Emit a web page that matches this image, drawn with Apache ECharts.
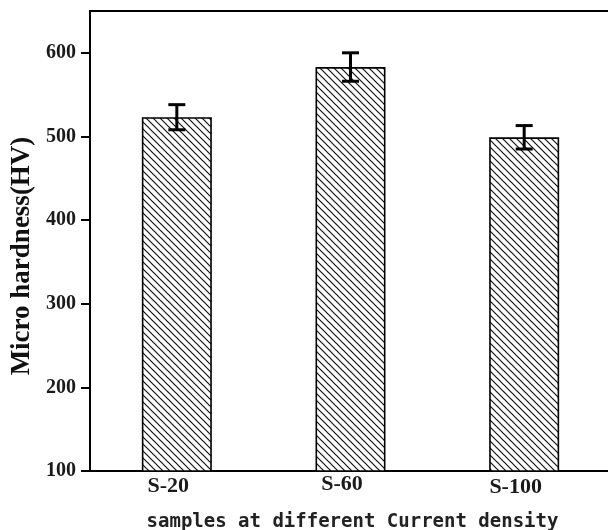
<!DOCTYPE html>
<html>
<head>
<meta charset="utf-8">
<script src="https://cdn.jsdelivr.net/npm/echarts@6/dist/echarts.min.js"></script>
<style>html,body{margin:0;padding:0;background:#fff}#c{width:608px;height:530px}</style>
</head>
<body>
<div id="c"></div>
<script>
const categories = ['S-20', 'S-60', 'S-100'];
const hardness = [523, 583, 499];
const errors = [15, 17, 14];
const yTicks = [100, 200, 300, 400, 500, 600];
const labelShiftY = [2.5, 0, 3.7];

// hatch pattern
const T = 7;
const pc = document.createElement('canvas');
pc.width = T; pc.height = T;
const g = pc.getContext('2d');
g.fillStyle = '#fff'; g.fillRect(0, 0, T, T);
g.strokeStyle = '#111'; g.lineWidth = 1.2;
g.beginPath();
g.moveTo(0, 0); g.lineTo(T, T);
g.moveTo(-T / 2, T / 2); g.lineTo(T / 2, T * 1.5);
g.moveTo(T / 2, -T / 2); g.lineTo(T * 1.5, T / 2);
g.stroke();

const chart = echarts.init(document.getElementById('c'), null, {renderer: 'canvas'});
const serif = '"Liberation Serif", "Times New Roman", serif';
const rich = {};
categories.forEach((c, i) => {
  rich['l' + i] = {fontFamily: serif, fontWeight: 'bold', fontSize: 22, color: '#1a1a1a', padding: [labelShiftY[i], 17, 0, 0]};
});
chart.setOption({
  animation: false,
  grid: {left: 90, top: 11, bottom: 59, width: 521, show: false, containLabel: false, outerBoundsMode: 'none'},
  xAxis: [{
    type: 'category',
    data: categories,
    axisLine: {lineStyle: {color: '#000', width: 2}},
    axisTick: {show: false},
    axisLabel: {
      margin: 2,
      formatter: (v) => '{l' + categories.indexOf(v) + '|' + v + '}',
      rich: rich
    },
    name: 'samples at different Current density',
    nameLocation: 'middle',
    nameGap: 42,
    nameTextStyle: {fontFamily: '"DejaVu Sans Mono", monospace', fontWeight: 'bold', fontSize: 19, color: '#222', padding: [0, 0, 0, 4]}
  }, {
    type: 'category',
    data: categories,
    position: 'top',
    axisLine: {show: true, lineStyle: {color: '#000', width: 2}},
    axisTick: {show: false},
    axisLabel: {show: false}
  }],
  yAxis: {
    type: 'value',
    min: 100, max: 650, interval: 100,
    splitLine: {show: false},
    axisLine: {show: true, lineStyle: {color: '#000', width: 2}},
    axisTick: {show: true, length: 9, lineStyle: {color: '#000', width: 2}, customValues: yTicks},
    axisLabel: {customValues: yTicks, margin: 14, fontFamily: serif, fontWeight: 'bold', fontSize: 20, color: '#1a1a1a'},
    name: 'Micro hardness(HV)',
    nameLocation: 'middle',
    nameGap: 52,
    nameTextStyle: {fontFamily: serif, fontWeight: 'bold', fontSize: 27, color: '#111', padding: [0, 30, 0, 0]}
  },
  series: [
    {
      type: 'bar',
      data: hardness,
      barWidth: 70,
      itemStyle: {color: {image: pc, repeat: 'repeat'}, borderColor: '#000', borderWidth: 1.6}
    },
    {
      type: 'custom',
      z: 10,
      data: categories.map((c, i) => [i, hardness[i], errors[i]]),
      renderItem: function (params, api) {
        const x = api.value(0), y = api.value(1), e = api.value(2);
        const hi = api.coord([x, y + e]);
        const lo = api.coord([x, y - e]);
        const w = 8.5;
        const st = {stroke: '#000', lineWidth: 3};
        return {
          type: 'group',
          children: [
            {type: 'line', shape: {x1: hi[0], y1: hi[1], x2: lo[0], y2: lo[1]}, style: st},
            {type: 'line', shape: {x1: hi[0] - w, y1: hi[1], x2: hi[0] + w, y2: hi[1]}, style: st},
            {type: 'line', shape: {x1: lo[0] - w, y1: lo[1], x2: lo[0] + w, y2: lo[1]}, style: st}
          ]
        };
      }
    }
  ]
});
</script>
</body>
</html>
